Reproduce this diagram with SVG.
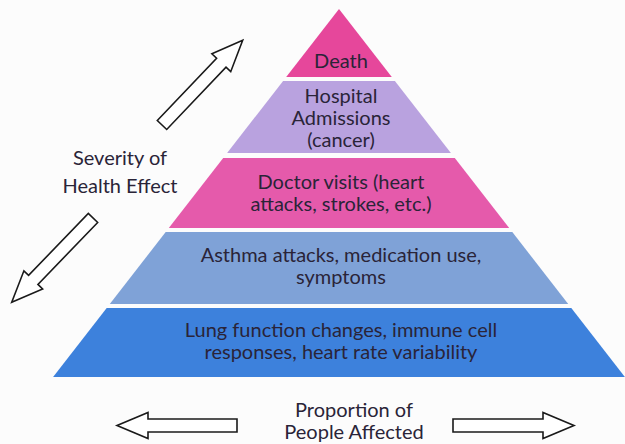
<svg xmlns="http://www.w3.org/2000/svg" width="625" height="444" viewBox="0 0 625 444">
<defs>
<style>
text{font-family:Lato,"Open Sans","Liberation Sans",sans-serif;font-size:20px;fill:#2a2438;text-anchor:middle}
.arrow{fill:#ffffff;stroke:#1a1a1a;stroke-width:1.6;stroke-linejoin:miter}
</style>
</defs>
<rect width="625" height="444" fill="#fcfcfc"/>
<g id="death">
<polygon points="339,9 391.8,77 286.2,77" fill="#e6479b"/>
<text x="341" y="68">Death</text>
</g>
<g id="hospital">
<polygon points="283.1,81 394.9,81 450.9,153 227.1,153" fill="#b9a2df"/>
<text x="341" y="103">Hospital</text>
<text x="341" y="125">Admissions</text>
<text x="341" y="147">(cancer)</text>
</g>
<g id="doctor">
<polygon points="223.2,158 454.8,158 509.2,228 168.8,228" fill="#e55aab"/>
<text x="341" y="189">Doctor visits (heart</text>
<text x="341" y="211">attacks, strokes, etc.)</text>
</g>
<g id="asthma">
<polygon points="165.7,232 512.3,232 568.2,304 109.8,304" fill="#7fa2d7"/>
<text x="341" y="262">Asthma attacks, medication use,</text>
<text x="341" y="284">symptoms</text>
</g>
<g id="lung">
<polygon points="106.7,308 571.3,308 624.9,377 53.1,377" fill="#3d81dc"/>
<text x="341" y="337">Lung function changes, immune cell</text>
<text x="341" y="359">responses, heart rate variability</text>
</g>
<g id="severity-label">
<text x="120" y="165">Severity of</text>
<text x="120" y="193">Health Effect</text>
</g>
<g id="proportion-label">
<text x="354" y="417">Proportion of</text>
<text x="354" y="439">People Affected</text>
</g>
<g id="connectors">
<path class="arrow" transform="translate(162,125) rotate(-46.4)" d="M0,-6.5 L86,-6.5 L86,-13 L117,0 L86,13 L86,6.5 L0,6.5 Z"/>
<path class="arrow" transform="translate(93,218) rotate(134)" d="M0,-6.5 L86,-6.5 L86,-13 L117,0 L86,13 L86,6.5 L0,6.5 Z"/>
<path class="arrow" transform="translate(237,425.5) rotate(180)" d="M0,-6.5 L89,-6.5 L89,-13 L120,0 L89,13 L89,6.5 L0,6.5 Z"/>
<path class="arrow" transform="translate(453,425.5)" d="M0,-6.5 L90,-6.5 L90,-13 L121,0 L90,13 L90,6.5 L0,6.5 Z"/>
</g>
</svg>
